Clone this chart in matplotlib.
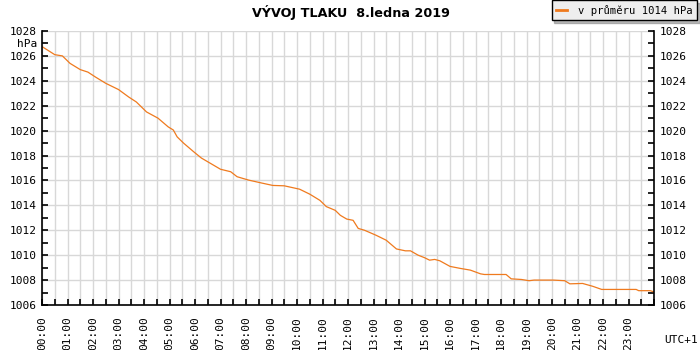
import matplotlib
matplotlib.use('Agg')
import matplotlib.pyplot as plt
from matplotlib.ticker import MultipleLocator

# hodiny od pulnoci, tlak v hPa
hours = [0.0, 0.5, 0.8, 1.1, 1.5, 1.8, 2.1, 2.5, 3.0, 3.4, 3.7, 3.9, 4.1, 4.55,
         4.95, 5.15, 5.3, 5.55, 5.95, 6.25, 6.5, 7.0, 7.4, 7.65, 8.1, 8.6, 9.05,
         9.5, 10.1, 10.5, 10.9, 11.15, 11.5, 11.7, 11.95, 12.2, 12.4, 12.65,
         13.1, 13.5, 13.9, 14.25, 14.45, 14.75, 15.0, 15.2, 15.4, 15.6, 16.0,
         16.4, 16.8, 17.2, 17.35, 18.2, 18.4, 18.8, 19.1, 19.3, 20.05, 20.5,
         20.7, 21.2, 21.6, 21.95, 23.3, 23.4, 23.85, 24.0]
pressure = [1026.75, 1026.1, 1026.0, 1025.4, 1024.9, 1024.7, 1024.3, 1023.8,
            1023.3, 1022.7, 1022.3, 1021.9, 1021.5, 1021.0, 1020.3, 1020.05,
            1019.5, 1019.0, 1018.3, 1017.8, 1017.5, 1016.9, 1016.7, 1016.3,
            1016.03, 1015.8, 1015.6, 1015.57, 1015.3, 1014.9, 1014.4, 1013.9,
            1013.6, 1013.2, 1012.9, 1012.8, 1012.15, 1012.0, 1011.6, 1011.2,
            1010.5, 1010.35, 1010.35, 1010.0, 1009.8, 1009.6, 1009.66, 1009.55,
            1009.1, 1008.94, 1008.8, 1008.5, 1008.45, 1008.45, 1008.1, 1008.05,
            1007.95, 1008.0, 1008.0, 1007.95, 1007.7, 1007.73, 1007.5, 1007.25,
            1007.25, 1007.15, 1007.15, 1007.05]

hour_labels = ['%02d:00' % h for h in range(24)]
title = 'VÝVOJ TLAKU  8.ledna 2019'
legend_text = 'v průměru 1014 hPa'

mono = 'DejaVu Sans Mono'
orange = '#ef7a1e'

fig = plt.figure(figsize=(7, 3.5), dpi=100)
ax = fig.add_axes([42 / 700, 1 - 305 / 350, 612 / 700, 274 / 350])

ax.plot(hours, pressure, color=orange, lw=0.9, label=legend_text)

ax.set_xlim(0, 24)
ax.set_ylim(1006, 1028)

ax.xaxis.set_minor_locator(MultipleLocator(0.5))
ax.set_xticks(range(24))
ax.set_xticklabels(hour_labels, rotation=90, fontfamily=mono, fontsize=8)
ax.yaxis.set_major_locator(MultipleLocator(2))
ax.yaxis.set_minor_locator(MultipleLocator(1))

ax.tick_params(axis='both', which='both', direction='in', length=4, width=1.2,
               labelsize=8, right=True, labelright=True)
ax.tick_params(axis='x', which='both', pad=8)
ax.tick_params(axis='y', which='both', pad=4)
for t in ax.yaxis.get_major_ticks():
    t.label1.set_fontfamily(mono)
    t.label2.set_fontfamily(mono)

ax.grid(True, which='both', axis='x', color='#d8d8d8', lw=1)
ax.grid(True, which='major', axis='y', color='#d8d8d8', lw=1)
ax.set_axisbelow(True)

ax.spines['top'].set_visible(False)
for s in ('left', 'right', 'bottom'):
    ax.spines[s].set_linewidth(1.2)

fig.text(37 / 700, 1 - 44 / 350, 'hPa', ha='right', va='center', fontfamily=mono, fontsize=8)
fig.text(698 / 700, 1 - 340 / 350, 'UTC+1', ha='right', va='center', fontfamily=mono, fontsize=8)
fig.text(351 / 700, 1 - 12 / 350, title, ha='center', va='center',
         fontweight='bold', fontsize=9.2)

leg = ax.legend(loc='upper right', bbox_to_anchor=(697 / 700, 1.0),
                bbox_transform=fig.transFigure, frameon=True, fancybox=False,
                shadow={'color': '#777777', 'ox': 2, 'oy': -2},
                facecolor='#eeeeee', edgecolor='black',
                prop={'family': mono, 'size': 7.6}, handlelength=1.0,
                handletextpad=1.0, borderpad=0.45, borderaxespad=0)
leg.get_frame().set_linewidth(1)
leg.get_frame().set_alpha(1)
for line in leg.get_lines():
    line.set_linewidth(2)

fig.savefig('out.png', dpi=100)
